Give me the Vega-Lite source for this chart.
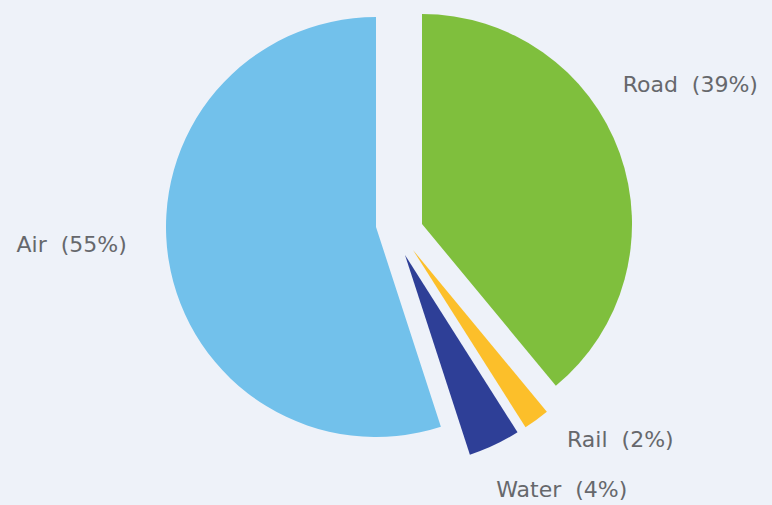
{
  "$schema": "https://vega.github.io/schema/vega-lite/v6.json",
  "width": 772,
  "height": 505,
  "autosize": {"type": "fit", "contains": "padding"},
  "padding": 0,
  "background": "#eef2f9",
  "config": {"view": {"stroke": null}},
  "data": {"values": [
    {"mode": "Road", "share": 39},
    {"mode": "Rail", "share": 2},
    {"mode": "Water", "share": 4},
    {"mode": "Air", "share": 55}
  ]},
  "transform": [
    {"window": [{"op": "row_number", "as": "idx"}]},
    {"stack": "share", "groupby": [], "sort": [{"field": "idx"}], "as": ["t0", "t1"]},
    {"calculate": "(datum.t0 + datum.t1) / 2", "as": "tm"},
    {"calculate": "datum.mode + '\u00a0 (' + datum.share + '%)'", "as": "label"}
  ],
  "encoding": {
    "color": {"field": "mode", "type": "nominal", "scale": {"domain": ["Road", "Rail", "Water", "Air"], "range": ["#7fbf3d", "#fcbf2a", "#2e3f97", "#72c1eb"]}, "legend": null}
  },
  "layer": [
    {
      "transform": [{"filter": "datum.mode === 'Air'"}],
      "layer": [
        {"mark": {"type": "arc", "radius": 210, "xOffset": -10, "yOffset": -25.5},
         "encoding": {"theta": {"field": "t0", "type": "quantitative", "scale": {"domain": [0, 100]}}, "theta2": {"field": "t1"}}},
        {"mark": {"type": "text", "radius": 300, "xOffset": -10, "yOffset": -25.5, "dx": -8, "dy": -29, "font": "DejaVu Sans", "fontSize": 22},
         "encoding": {"theta": {"field": "tm", "type": "quantitative", "scale": {"domain": [0, 100]}}, "text": {"field": "label"}, "color": {"value": "#66686c"}}}
      ]
    },
    {
      "transform": [{"filter": "datum.mode === 'Road'"}],
      "layer": [
        {"mark": {"type": "arc", "radius": 210, "xOffset": 36, "yOffset": -28.5},
         "encoding": {"theta": {"field": "t0", "type": "quantitative", "scale": {"domain": [0, 100]}}, "theta2": {"field": "t1"}}},
        {"mark": {"type": "text", "radius": 300, "xOffset": 36, "yOffset": -28.5, "dx": -14, "dy": -37, "font": "DejaVu Sans", "fontSize": 22},
         "encoding": {"theta": {"field": "tm", "type": "quantitative", "scale": {"domain": [0, 100]}}, "text": {"field": "label"}, "color": {"value": "#66686c"}}}
      ]
    },
    {
      "transform": [{"filter": "datum.mode === 'Rail'"}],
      "layer": [
        {"mark": {"type": "arc", "radius": 210, "xOffset": 27, "yOffset": -2.5},
         "encoding": {"theta": {"field": "t0", "type": "quantitative", "scale": {"domain": [0, 100]}}, "theta2": {"field": "t1"}}},
        {"mark": {"type": "text", "radius": 300, "xOffset": 27, "yOffset": -2.5, "dx": 31, "dy": -53, "font": "DejaVu Sans", "fontSize": 22},
         "encoding": {"theta": {"field": "tm", "type": "quantitative", "scale": {"domain": [0, 100]}}, "text": {"field": "label"}, "color": {"value": "#66686c"}}}
      ]
    },
    {
      "transform": [{"filter": "datum.mode === 'Water'"}],
      "layer": [
        {"mark": {"type": "arc", "radius": 210, "xOffset": 19, "yOffset": 2.5},
         "encoding": {"theta": {"field": "t0", "type": "quantitative", "scale": {"domain": [0, 100]}}, "theta2": {"field": "t1"}}},
        {"mark": {"type": "text", "radius": 300, "xOffset": 19, "yOffset": 2.5, "dx": 29, "dy": -36, "font": "DejaVu Sans", "fontSize": 22},
         "encoding": {"theta": {"field": "tm", "type": "quantitative", "scale": {"domain": [0, 100]}}, "text": {"field": "label"}, "color": {"value": "#66686c"}}}
      ]
    }
  ]
}
